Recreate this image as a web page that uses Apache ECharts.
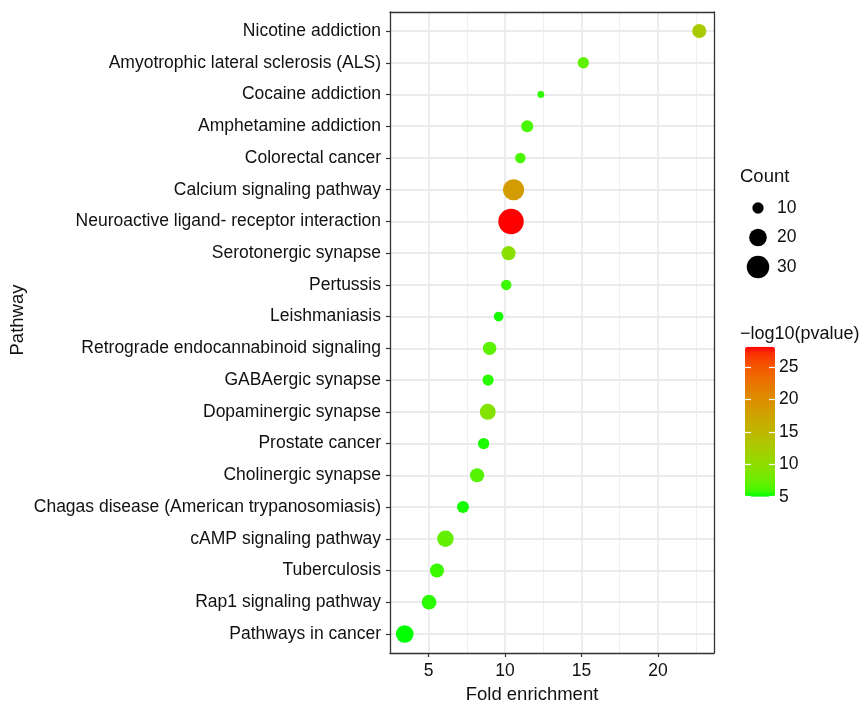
<!DOCTYPE html>
<html><head><meta charset="utf-8">
<script src="https://cdn.jsdelivr.net/npm/echarts@6/dist/echarts.min.js"></script>
<style>html,body{margin:0;padding:0;background:#fff}#c{width:862px;height:706px}</style>
</head><body><div id="c"></div>
<script>
// ---- data (top row first) ----
const pathways = [
  'Nicotine addiction',
  'Amyotrophic lateral sclerosis (ALS)',
  'Cocaine addiction',
  'Amphetamine addiction',
  'Colorectal cancer',
  'Calcium signaling pathway',
  'Neuroactive ligand- receptor interaction',
  'Serotonergic synapse',
  'Pertussis',
  'Leishmaniasis',
  'Retrograde endocannabinoid signaling',
  'GABAergic synapse',
  'Dopaminergic synapse',
  'Prostate cancer',
  'Cholinergic synapse',
  'Chagas disease (American trypanosomiasis)',
  'cAMP signaling pathway',
  'Tuberculosis',
  'Rap1 signaling pathway',
  'Pathways in cancer'
];
const foldEnrichment = [22.7, 15.12, 12.34, 11.45, 11.0, 10.56, 10.39, 10.23, 10.08, 9.58, 8.99, 8.89, 8.87, 8.6, 8.17, 7.25, 6.1, 5.55, 5.03, 3.44];
const counts = [14, 10, 5, 11, 9, 27, 37, 14, 9, 8, 13, 10, 17, 10, 14, 11, 18, 14, 15, 20];
const negLog10P = [12.6, 7.0, 5.7, 6.2, 6.2, 18.4, 28.15, 9.6, 5.8, 5.3, 6.9, 5.6, 9.2, 5.4, 6.6, 5.3, 7.3, 5.8, 5.6, 5.0];
const xTickValues = [5, 10, 15, 20];
const xMinorValues = [2.5, 7.5, 12.5, 17.5, 22.5];
const sizeBreaks = [10, 20, 30];
const colorBreaks = [5, 10, 15, 20, 25];

// ---- helpers ----
const FONT = "'Liberation Sans', Arial, Helvetica, sans-serif";
function sizeFor(c) { return -4.0 + 4.84 * Math.sqrt(c); }
function s2l(c){ c/=255; return c<=0.04045? c/12.92 : Math.pow((c+0.055)/1.055,2.4); }
function l2s(c){ c = c<=0.0031308? 12.92*c : 1.055*Math.pow(c,1/2.4)-0.055; return Math.max(0,Math.min(255,Math.round(c*255))); }
function rgb2lab(r,g,b){
  r=s2l(r); g=s2l(g); b=s2l(b);
  let X=(0.4124*r+0.3576*g+0.1805*b)/0.95047, Y=(0.2126*r+0.7152*g+0.0722*b), Z=(0.0193*r+0.1192*g+0.9505*b)/1.08883;
  const f=t=> t>0.008856? Math.cbrt(t) : 7.787*t+16/116;
  const fx=f(X), fy=f(Y), fz=f(Z);
  return [116*fy-16, 500*(fx-fy), 200*(fy-fz)];
}
function lab2hex(L,a,bb){
  const fy=(L+16)/116, fx=fy+a/500, fz=fy-bb/200;
  const fi=t=> t*t*t>0.008856? t*t*t : (t-16/116)/7.787;
  const X=fi(fx)*0.95047, Y=fi(fy), Z=fi(fz)*1.08883;
  const r= 3.2406*X-1.5372*Y-0.4986*Z, g=-0.9689*X+1.8758*Y+0.0415*Z, b=0.0557*X-0.2040*Y+1.0570*Z;
  return '#'+[l2s(r),l2s(g),l2s(b)].map(v=>v.toString(16).padStart(2,'0')).join('');
}
const lo = rgb2lab(0,255,0), hi = rgb2lab(255,0,0);
const labStops = [];
for (let k=0;k<=24;k++){ const t=k/24; labStops.push(lab2hex(lo[0]+(hi[0]-lo[0])*t, lo[1]+(hi[1]-lo[1])*t, lo[2]+(hi[2]-lo[2])*t)); }

const pMin = Math.min(...negLog10P), pMax = Math.max(...negLog10P);
const feMin = Math.min(...foldEnrichment), feMax = Math.max(...foldEnrichment);
const xMin = feMin - 0.05*(feMax-feMin), xMax = feMax + 0.05*(feMax-feMin);
const rowIdx = pathways.map((_, i) => i);

const txt = (size) => ({ fontFamily: FONT, fontSize: size, color: '#111111' });
const BORDER = { show: true, onZero: false, lineStyle: { color: '#333333', width: 1.3 } };
const WHITE_TICK = { color: '#ffffff', width: 1.2 };

const chart = echarts.init(document.getElementById('c'), null, { renderer: 'canvas' });
chart.setOption({
  animation: false,
  backgroundColor: '#ffffff',
  grid: [
    { left: 390, top: 12, width: 324, height: 641, outerBoundsMode: 'none', containLabel: false },
    { left: 745, top: 193.25, width: 26, height: 88.5, outerBoundsMode: 'none', containLabel: false },
    { left: 745, top: 346.7, width: 30, height: 150, outerBoundsMode: 'none', containLabel: false }
  ],
  xAxis: [
    { gridIndex: 0, type: 'value', min: xMin, max: xMax, position: 'bottom', z: 10,
      axisLine: BORDER,
      axisTick: { show: true, customValues: xTickValues, length: 4, lineStyle: { color: '#333333', width: 1.2 } },
      axisLabel: { show: true, customValues: xTickValues, margin: 9, ...txt(17.5) },
      splitLine: { show: false } },
    { gridIndex: 0, type: 'value', min: xMin, max: xMax, position: 'top', z: 10,
      axisLine: BORDER, axisTick: { show: false }, axisLabel: { show: false }, splitLine: { show: false } },
    { gridIndex: 1, type: 'value', min: 0, max: 1, show: false },
    { gridIndex: 2, type: 'value', min: 0, max: 1, show: false }
  ],
  yAxis: [
    { gridIndex: 0, type: 'value', min: -0.6, max: pathways.length - 1 + 0.6, inverse: true, position: 'left', z: 10,
      axisLine: BORDER,
      axisTick: { show: true, customValues: rowIdx, length: 4, lineStyle: { color: '#333333', width: 1.2 } },
      axisLabel: { show: true, customValues: rowIdx, margin: 9, formatter: v => pathways[Math.round(v)], ...txt(17.5) },
      splitLine: { show: false } },
    { gridIndex: 0, type: 'value', min: -0.6, max: pathways.length - 1 + 0.6, inverse: true, position: 'right', z: 10,
      axisLine: BORDER, axisTick: { show: false }, axisLabel: { show: false }, splitLine: { show: false } },
    { gridIndex: 1, type: 'category', data: sizeBreaks.map(String), inverse: true, position: 'right',
      axisLine: { show: false }, axisTick: { show: false }, splitLine: { show: false },
      axisLabel: { show: true, margin: 6, ...txt(17.5) } },
    // colour bar: labels on the right
    { gridIndex: 2, type: 'value', min: pMin, max: pMax, position: 'right', zlevel: 2, z: 10,
      axisLine: { show: false }, splitLine: { show: false }, axisTick: { show: false },
      axisLabel: { show: true, customValues: colorBreaks, margin: 4, ...txt(17.5) } },
    // colour bar: white ticks along the left edge, pointing in
    { gridIndex: 2, type: 'value', min: pMin, max: pMax, position: 'left', zlevel: 2, z: 10,
      axisLine: { show: false }, splitLine: { show: false }, axisLabel: { show: false },
      axisTick: { show: true, inside: true, customValues: colorBreaks, length: 6, lineStyle: WHITE_TICK } },
    // colour bar: white ticks along the right edge, pointing in
    { gridIndex: 2, type: 'value', min: pMin, max: pMax, position: 'left', offset: -30, zlevel: 2, z: 10,
      axisLine: { show: false }, splitLine: { show: false }, axisLabel: { show: false },
      axisTick: { show: true, inside: false, customValues: colorBreaks, length: 6, lineStyle: WHITE_TICK } }
  ],
  visualMap: [{
    type: 'continuous', min: pMin, max: pMax, dimension: 3, seriesIndex: 0,
    inRange: { color: labStops }, calculable: false, hoverLink: false, z: 1,
    orient: 'vertical', left: 745, top: 346.7, itemWidth: 30, itemHeight: 150, padding: 0,
    text: null, showLabel: false
  }],
  series: [
    { type: 'scatter', xAxisIndex: 0, yAxisIndex: 0, zlevel: 1, z: 3,
      data: foldEnrichment.map((x, i) => [x, i, counts[i], negLog10P[i]]),
      symbol: 'circle', symbolSize: v => sizeFor(v[2]),
      itemStyle: { opacity: 1 }, emphasis: { disabled: true } },
    { type: 'scatter', xAxisIndex: 2, yAxisIndex: 2, zlevel: 1, z: 3,
      data: sizeBreaks.map((c, i) => [0.5, i, c]),
      symbol: 'circle', symbolSize: v => sizeFor(v[2]),
      itemStyle: { color: '#000000', opacity: 1 }, emphasis: { disabled: true } },
    { type: 'line', xAxisIndex: 0, yAxisIndex: 0, z: 1, data: [],
      markLine: {
        silent: true, symbol: ['none', 'none'], label: { show: false }, animation: false,
        emphasis: { disabled: true },
        lineStyle: { type: 'solid', color: '#EBEBEB', width: 1.8 },
        data: [
          ...xMinorValues.map(v => ({ xAxis: v, lineStyle: { type: 'solid', color: '#EFEFEF', width: 1 } })),
          ...xTickValues.map(v => ({ xAxis: v, lineStyle: { type: 'solid', color: '#EBEBEB', width: 1.8 } })),
          ...rowIdx.map(v => ({ yAxis: v, lineStyle: { type: 'solid', color: '#EBEBEB', width: 1.8 } }))
        ]
      } }
  ],
  graphic: [
    { type: 'text', x: 532, y: 695, style: { text: 'Fold enrichment', align: 'center', verticalAlign: 'middle', fontFamily: FONT, fontSize: 18.5, fill: '#111111' } },
    { type: 'text', x: 18, y: 320, rotation: Math.PI / 2, style: { text: 'Pathway', align: 'center', verticalAlign: 'middle', fontFamily: FONT, fontSize: 18.5, fill: '#111111' } },
    { type: 'text', x: 740, y: 177, style: { text: 'Count', align: 'left', verticalAlign: 'middle', fontFamily: FONT, fontSize: 18.5, fill: '#111111' } },
    { type: 'text', x: 740, y: 334, style: { text: '\u2212log10(pvalue)', align: 'left', verticalAlign: 'middle', fontFamily: FONT, fontSize: 18, fill: '#111111' } }
  ]
});
</script>
</body></html>
